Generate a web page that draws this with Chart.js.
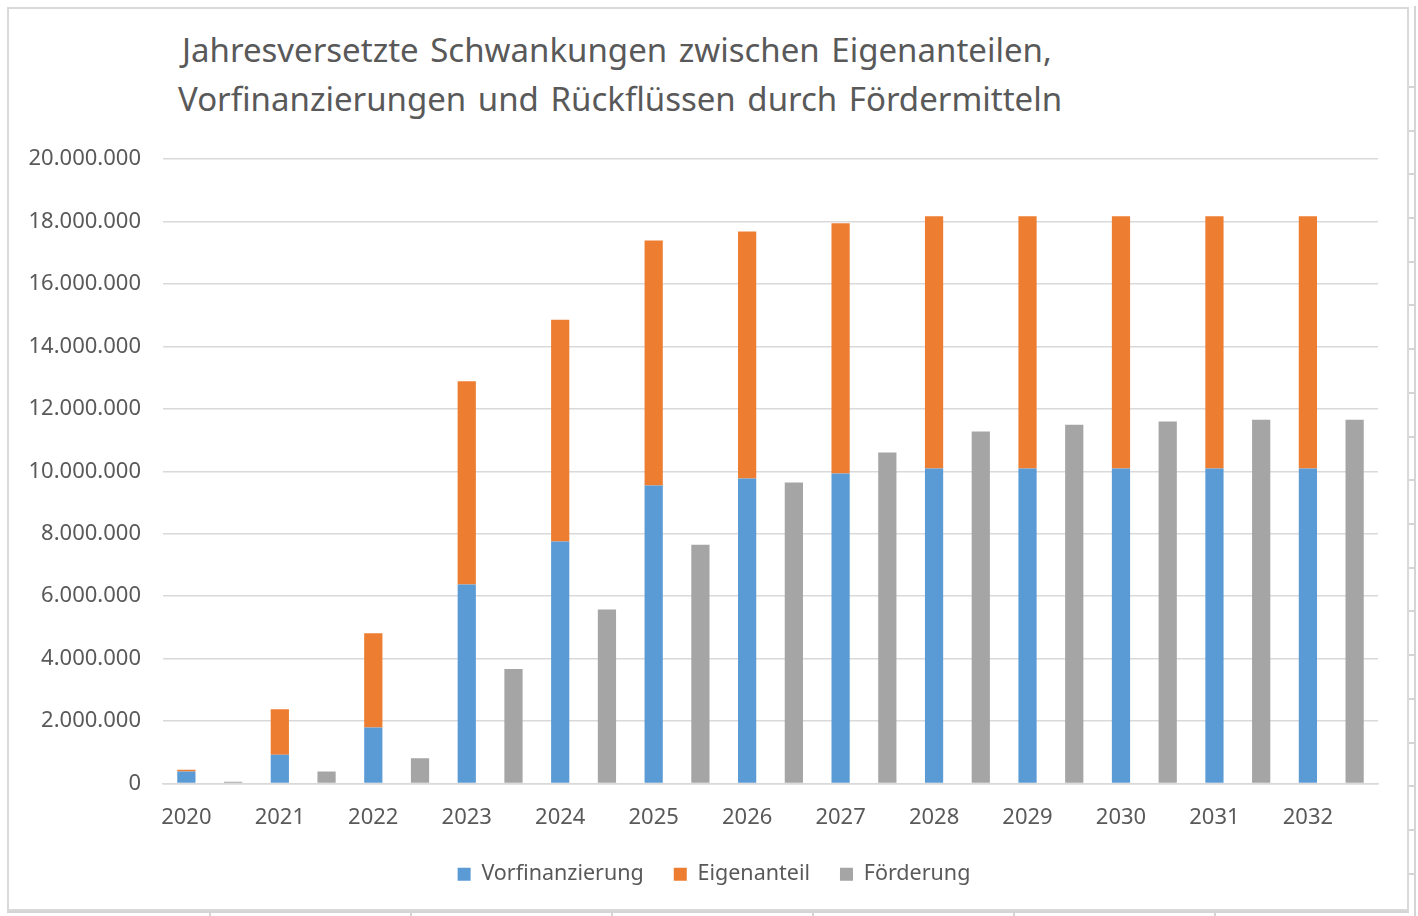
<!DOCTYPE html>
<html>
<head>
<meta charset="utf-8">
<script src="https://cdn.jsdelivr.net/npm/chart.js@4.4.1/dist/chart.umd.min.js"></script>
<style>
  html, body { margin: 0; padding: 0; background: #fff; }
  #wrap { position: relative; width: 1418px; height: 916px; overflow: hidden; }
  #frame { position: absolute; left: 7px; top: 7px; width: 1402px; height: 904px; border: 2px solid #d9d9d9; box-sizing: border-box; }
  #chart { position: absolute; left: 0; top: 0; }
  .title { position: absolute; font-family: "Noto Sans", sans-serif; font-size: 33px; color: #595959; white-space: nowrap; word-spacing: 3px; }
  .cell { position: absolute; background: #d4d4d4; }
</style>
</head>
<body>
<div id="wrap">
  <div id="frame"></div>
  <div class="title" style="left:182px; top:27px;">Jahresversetzte Schwankungen zwischen Eigenanteilen,</div>
  <div class="title" style="left:178px; top:76px;">Vorfinanzierungen und Rückflüssen durch Fördermitteln</div>
  <canvas id="chart" width="1418" height="916"></canvas>
</div>
<script>
  'use strict';

  //- DATA -
  var years = ['2020','2021','2022','2023','2024','2025','2026','2027','2028','2029','2030','2031','2032'];
  var vorfinanzierung = [385000, 920000, 1790000, 6370000, 7750000, 9540000, 9770000, 9930000, 10090000, 10090000, 10090000, 10090000, 10090000];
  var eigenanteil = [55000, 1460000, 3020000, 6510000, 7100000, 7850000, 7910000, 8010000, 8080000, 8080000, 8080000, 8080000, 8080000];
  var foerderung = [55000, 385000, 810000, 3670000, 5570000, 7650000, 9640000, 10600000, 11270000, 11490000, 11590000, 11650000, 11650000];
  var yTicks = [0, 2000000, 4000000, 6000000, 8000000, 10000000, 12000000, 14000000, 16000000, 18000000, 20000000];

  // spreadsheet cell borders peeking out around the chart object
  var wrap = document.getElementById('wrap');
  function cell(l, t, w, h) {
    var d = document.createElement('div');
    d.className = 'cell';
    d.style.cssText = 'left:' + l + 'px;top:' + t + 'px;width:' + w + 'px;height:' + h + 'px;';
    wrap.insertBefore(d, wrap.firstChild);
  }
  cell(1414, 6, 2, 910);
  cell(7, 911, 1402, 2);
  for (var yy = 86; yy < 916; yy += 43.7) cell(1408, Math.round(yy), 8, 2);
  [209, 410, 611, 812, 1013, 1214].forEach(function (xx) { cell(xx, 911, 2, 5); });

  // every year gets two slots: the stacked own/pre-financing bar, then the funding bar
  var labels = [], blueData = [], orangeData = [], grayData = [];
  years.forEach(function (y, i) {
    labels.push(y, '');
    blueData.push(vorfinanzierung[i], null);
    orangeData.push(eigenanteil[i], null);
    grayData.push(null, foerderung[i]);
  });

  function fmt(v) {
    return String(v).replace(/\B(?=(\d{3})+(?!\d))/g, '.');
  }

  // nudge the legend a bit to the right, like the Excel original
  var legendShift = {
    id: 'legendShift',
    afterLayout: function (chart) {
      chart.legend.left += 25;
      chart.legend.right += 25;
    }
  };

  var font = 'Noto Sans';
  var textColor = '#595959';

  new Chart(document.getElementById('chart').getContext('2d'), {
    type: 'bar',
    data: {
      labels: labels,
      datasets: [
        { label: 'Vorfinanzierung', data: blueData, backgroundColor: '#5b9bd5' },
        { label: 'Eigenanteil', data: orangeData, backgroundColor: '#ed7d31' },
        { label: 'Förderung', data: grayData, backgroundColor: '#a5a5a5' }
      ]
    },
    plugins: [legendShift],
    options: {
      responsive: false,
      animation: false,
      layout: { padding: { left: 0, right: 40, top: 159, bottom: 21 } },
      datasets: { bar: { categoryPercentage: 1, barPercentage: 0.39, skipNull: true } },
      plugins: {
        legend: {
          position: 'bottom',
          labels: {
            font: { family: font, size: 21.5 },
            color: textColor,
            boxWidth: 13,
            boxHeight: 13,
            padding: 30
          }
        },
        tooltip: { enabled: false }
      },
      scales: {
        x: {
          stacked: true,
          grid: { display: false, drawTicks: false },
          border: { display: true, color: '#d9d9d9', width: 1.5 },
          ticks: {
            autoSkip: false,
            maxRotation: 0,
            padding: 21,
            font: { family: font, size: 22 },
            color: textColor
          },
          afterFit: function (scale) { scale.height = 50; }
        },
        y: {
          stacked: true,
          min: 0,
          max: 20000000,
          afterBuildTicks: function (scale) {
            scale.ticks = yTicks.map(function (v) { return { value: v }; });
          },
          grid: { color: '#d9d9d9', lineWidth: 1.5, drawTicks: false },
          border: { display: false },
          ticks: {
            padding: 22,
            font: { family: font, size: 22 },
            color: textColor,
            callback: function (v) { return fmt(v); }
          },
          afterFit: function (scale) { scale.width = 163; }
        }
      }
    }
  });
</script>
</body>
</html>
